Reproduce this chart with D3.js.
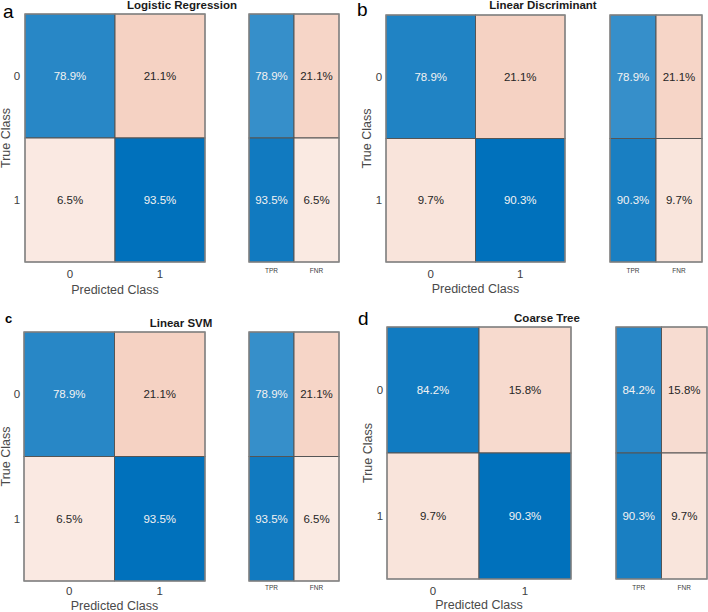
<!DOCTYPE html>
<html><head><meta charset="utf-8">
<script src="https://cdn.jsdelivr.net/npm/d3@7"></script>
<style>body{margin:0;background:#fff}svg{display:block;font-family:"Liberation Sans",Arial,sans-serif}</style>
</head><body><svg id="c" width="708" height="612"></svg>
<script>
const titles = ["Logistic Regression","Linear Discriminant","Linear SVM","Coarse Tree"];
const panelLetters = ["a","b","c","d"];
const classes = ["0","1"];
const rateLabels = ["TPR","FNR"];
const lrValues = [[78.9,21.1],[6.5,93.5]];
const ldValues = [[78.9,21.1],[9.7,90.3]];
const svmValues = [[78.9,21.1],[6.5,93.5]];
const treeValues = [[84.2,15.8],[9.7,90.3]];
const allValues = [lrValues, ldValues, svmValues, treeValues];

// layout (positions only)
const layouts = [
  {main:[25,205,14,262], side:[249,339], title:[182,9], letter:[3,18,"normal",19], xt:278, xl:294, ylab:6, ytick:17},
  {main:[386,565,15,262], side:[610,702], title:[543,9], letter:[357,16,"normal",19], xt:278, xl:293, ylab:367, ytick:379},
  {main:[24,205,332,581], side:[249,339], title:[181,327], letter:[5,323,"bold",13], xt:595, xl:610, ylab:6, ytick:17},
  {main:[387,571,327,579], side:[616,707], title:[547,322], letter:[358,325,"normal",19], xt:595, xl:609, ylab:368, ytick:380}
];

const BLUE = d3.rgb(0,113,188), ORANGE = d3.rgb(217,83,25);
const svg = d3.select("#c");

allValues.forEach((vals, p) => {
  const L = layouts[p];
  const g = svg.append("g");
  const [x0,x1,y0,y1] = L.main;
  const x = d3.scaleBand().domain(classes).range([x0,x1]);
  const y = d3.scaleBand().domain(classes).range([y0,y1]);
  const maxDiag = d3.max(classes.map((c,i)=>vals[i][i]));
  const blueMain = d3.scaleLinear().domain([0,maxDiag]).range([0,1]).clamp(true);
  const orangeMain = d3.scaleLinear().domain([0,100]).range([0.065,1]);
  const cells = [];
  classes.forEach((r,i)=>classes.forEach((c,j)=>cells.push({r,c,v:vals[i][j],diag:i===j})));
  const colorOf = (d, bs, os) => d.diag ? d3.interpolateRgb("#fff", BLUE)(bs(d.v)) : d3.interpolateRgb("#fff", ORANGE)(os(d.v));

  g.selectAll("rect.cell").data(cells).join("rect").attr("class","cell")
    .attr("x", d=>x(d.c)).attr("y", d=>y(d.r))
    .attr("width", x.bandwidth()).attr("height", y.bandwidth())
    .attr("fill", d=>colorOf(d, blueMain, orangeMain))
    .attr("stroke","#555").attr("stroke-width",1);
  g.selectAll("text.cell").data(cells).join("text").attr("class","cell")
    .attr("x", d=>x(d.c)+x.bandwidth()/2).attr("y", d=>y(d.r)+y.bandwidth()/2)
    .attr("text-anchor","middle").attr("dy","0.35em").attr("font-size",11.5)
    .attr("fill", d=>d.diag ? "#f2f2f2" : "#262626")
    .text(d=>d.v.toFixed(1)+"%");
  g.append("rect").attr("x",x0).attr("y",y0).attr("width",x1-x0).attr("height",y1-y0)
    .attr("fill","none").attr("stroke","#8a8a8a").attr("stroke-width",1.2);

  // side panel
  const [s0,s1] = L.side;
  const xs = d3.scaleBand().domain(rateLabels).range([s0,s1]);
  const blueSide = d3.scaleLinear().domain([0,100]).range([0,1]);
  const orangeSide = d3.scaleLinear().domain([0,100]).range([0.07,0.9]);
  const sideCells = [];
  classes.forEach((r,i)=>{
    sideCells.push({r, c:"TPR", v:vals[i][i], diag:true});
    sideCells.push({r, c:"FNR", v:vals[i][1-i], diag:false});
  });
  g.selectAll("rect.side").data(sideCells).join("rect").attr("class","side")
    .attr("x", d=>xs(d.c)).attr("y", d=>y(d.r))
    .attr("width", xs.bandwidth()).attr("height", y.bandwidth())
    .attr("fill", d=>colorOf(d, blueSide, orangeSide))
    .attr("stroke","#555").attr("stroke-width",1);
  g.selectAll("text.side").data(sideCells).join("text").attr("class","side")
    .attr("x", d=>xs(d.c)+xs.bandwidth()/2).attr("y", d=>y(d.r)+y.bandwidth()/2)
    .attr("text-anchor","middle").attr("dy","0.35em").attr("font-size",11.5)
    .attr("fill", d=>d.diag ? "#f2f2f2" : "#262626")
    .text(d=>d.v.toFixed(1)+"%");
  g.append("rect").attr("x",s0).attr("y",y0).attr("width",s1-s0).attr("height",y1-y0)
    .attr("fill","none").attr("stroke","#8a8a8a").attr("stroke-width",1.2);

  // x tick labels
  g.selectAll("text.xt").data(classes).join("text").attr("class","xt")
    .attr("x", d=>x(d)+x.bandwidth()/2).attr("y", L.xt)
    .attr("text-anchor","middle").attr("font-size",11.5).attr("fill","#404040").text(d=>d);
  g.selectAll("text.st").data(rateLabels).join("text").attr("class","st")
    .attr("x", d=>xs(d)+xs.bandwidth()/2).attr("y", L.xt-5)
    .attr("text-anchor","middle").attr("font-size",6.5).attr("fill","#404040").text(d=>d);
  g.append("text").attr("x",(x0+x1)/2).attr("y",L.xl).attr("text-anchor","middle")
    .attr("font-size",12.5).attr("fill","#4a4a4a").text("Predicted Class");

  // y tick labels
  g.selectAll("text.yt").data(classes).join("text").attr("class","yt")
    .attr("x", L.ytick).attr("y", d=>y(d)+y.bandwidth()/2).attr("dy","0.35em")
    .attr("text-anchor","middle").attr("font-size",11.5).attr("fill","#404040").text(d=>d);
  g.append("text").attr("transform",`translate(${L.ylab},${(y0+y1)/2}) rotate(-90)`)
    .attr("text-anchor","middle").attr("dy","0.35em")
    .attr("font-size",12.5).attr("fill","#4a4a4a").text("True Class");

  // title and letter
  g.append("text").attr("x",L.title[0]).attr("y",L.title[1]).attr("text-anchor","middle")
    .attr("font-size",11.5).attr("font-weight","bold").attr("fill","#1a1a1a").text(titles[p]);
  g.append("text").attr("x",L.letter[0]).attr("y",L.letter[1])
    .attr("font-size",L.letter[3]).attr("font-weight",L.letter[2]).attr("fill","#000").text(panelLetters[p]);
});
</script></body></html>
